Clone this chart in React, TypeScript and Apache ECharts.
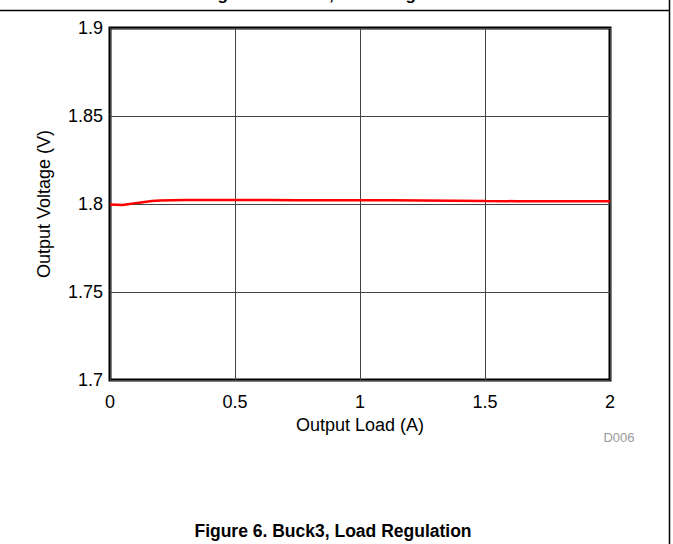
import React, { useEffect, useRef } from "react";
import * as echarts from "echarts";

const loadA = [0, 0.05, 0.1, 0.2, 0.3, 0.5, 0.75, 1.0, 1.25, 1.5, 1.75, 2.0];
const voltageV = [1.7997, 1.7995, 1.8005, 1.802, 1.8023, 1.8023, 1.8022, 1.8022, 1.802, 1.8017, 1.8016, 1.8016];
const xTicks = { min: 0, max: 2, interval: 0.5 };
const yTicks = { min: 1.7, max: 1.9, interval: 0.05 };
const xName = "Output Load (A)";
const yName = "Output Voltage (V)";
const figureTitle = "Figure 6. Buck3, Load Regulation";
const prevTitle = "Figure 5. Buck2, Load Regulation";
const code = "D006";

const FONT = "'Liberation Sans', Arial, sans-serif";

export default function App() {
  const ref = useRef<HTMLDivElement>(null);
  useEffect(() => {
    if (!ref.current) return;
    const chart = echarts.init(ref.current, undefined, { renderer: "svg" });
    chart.setOption({
      animation: false,
      backgroundColor: "#fff",
      textStyle: { fontFamily: FONT },
      grid: {
        left: 110,
        right: 63,
        top: 28,
        bottom: 164,
        show: true,
        borderColor: "#000",
        borderWidth: 3,
        backgroundColor: "transparent",
      },
      xAxis: {
        type: "value",
        min: xTicks.min,
        max: xTicks.max,
        interval: xTicks.interval,
        name: xName,
        nameLocation: "middle",
        nameGap: 34,
        nameTextStyle: { fontSize: 18, color: "#000", fontFamily: FONT },
        axisLine: { show: false },
        axisTick: { show: false },
        axisLabel: { fontSize: 18, color: "#000", margin: 13, fontFamily: FONT },
        splitLine: { show: true, lineStyle: { color: "#444", width: 1 } },
      },
      yAxis: {
        type: "value",
        min: yTicks.min,
        max: yTicks.max,
        interval: yTicks.interval,
        name: yName,
        nameLocation: "middle",
        nameGap: 57,
        nameTextStyle: { fontSize: 18, color: "#000", fontFamily: FONT },
        axisLine: { show: false },
        axisTick: { show: false },
        axisLabel: {
          fontSize: 18,
          color: "#000",
          margin: 7,
          fontFamily: FONT,
          formatter: (v: number) => String(parseFloat(v.toFixed(2))),
        },
        splitLine: { show: true, lineStyle: { color: "#444", width: 1 } },
      },
      series: [
        {
          type: "line",
          data: loadA.map((x, i) => [x, voltageV[i]]),
          smooth: true,
          showSymbol: false,
          lineStyle: { color: "#ff0000", width: 2.5 },
          z: 5,
        },
      ],
      graphic: [
        {
          type: "line",
          shape: { x1: 0, y1: 10.5, x2: 669, y2: 10.5 },
          style: { stroke: "#000", lineWidth: 1.5 },
        },
        {
          type: "line",
          shape: { x1: 669.5, y1: 0, x2: 669.5, y2: 544 },
          style: { stroke: "#000", lineWidth: 1.5 },
        },
        {
          type: "text",
          x: 337,
          y: -6,
          style: {
            text: prevTitle,
            fill: "#000",
            font: `bold 17px ${FONT}`,
            textAlign: "center",
            textVerticalAlign: "middle",
          },
        },
        {
          type: "text",
          x: 619,
          y: 437,
          style: {
            text: code,
            fill: "#999",
            font: `13px ${FONT}`,
            textAlign: "center",
            textVerticalAlign: "middle",
          },
        },
        {
          type: "text",
          x: 333,
          y: 531,
          style: {
            text: figureTitle,
            fill: "#000",
            font: `bold 17.5px ${FONT}`,
            textAlign: "center",
            textVerticalAlign: "middle",
          },
        },
      ],
    });
    return () => chart.dispose();
  }, []);
  return (
    <div
      ref={ref}
      style={{ position: "fixed", left: 0, top: 0, width: 673, height: 544 }}
    />
  );
}
